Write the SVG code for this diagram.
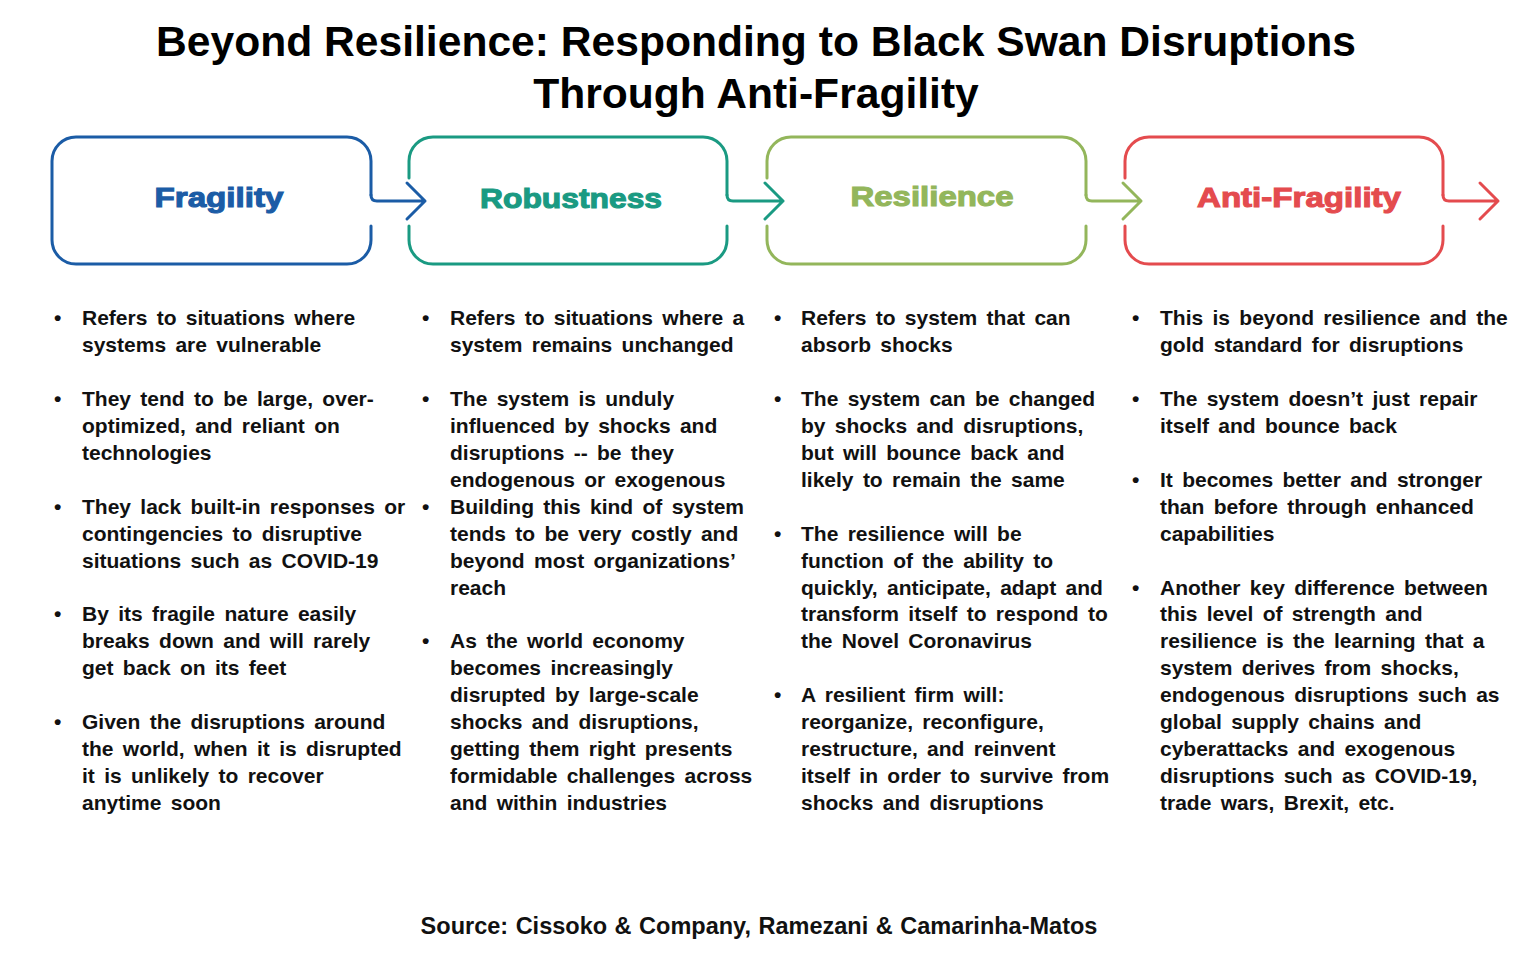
<svg xmlns="http://www.w3.org/2000/svg" width="1536" height="960" viewBox="0 0 1536 960">
<style>
.title{font-family:"Liberation Sans",Arial,sans-serif;font-weight:bold;font-size:42.6px;fill:#000;text-anchor:middle}
.hdr{font-family:"Liberation Sans",Arial,sans-serif;font-weight:bold;font-size:28px;text-anchor:middle;stroke-width:1.1}
.body{font-family:"Liberation Sans",Arial,sans-serif;font-weight:bold;font-size:21px;fill:#111;word-spacing:3.5px}
.src{font-family:"Liberation Sans",Arial,sans-serif;font-weight:bold;font-size:23.5px;fill:#111;text-anchor:middle;word-spacing:1px}
.box{fill:none;stroke-width:3;stroke-linecap:round;stroke-linejoin:round}
.con{fill:none;stroke-width:3;stroke-linecap:round;stroke-linejoin:round}
.blue{stroke:#1B5CA6}.teal{stroke:#1A9A82}.green{stroke:#93B65B}.red{stroke:#E44B4E}
</style>
<rect width="1536" height="960" fill="#fff"/>
<g id="title">
<text class="title" x="756" y="56">Beyond Resilience: Responding to Black Swan Disruptions</text>
<text class="title" x="756" y="108">Through Anti-Fragility</text>
</g>
<g id="fragility">
<path class="box blue" d="M371,226 V240 A24 24 0 0 1 347,264 H76 A24 24 0 0 1 52,240 V161 A24 24 0 0 1 76,137 H347 A24 24 0 0 1 371,161 V195"/>
<text class="hdr" x="219" y="207" fill="#1B5CA6" stroke="#1B5CA6" textLength="129" lengthAdjust="spacingAndGlyphs">Fragility</text>
<g class="body">
<text x="54" y="325">•</text>
<text><tspan x="82" y="325">Refers to situations where</tspan><tspan x="82" y="352">systems are vulnerable</tspan></text>
<text x="54" y="406">•</text>
<text><tspan x="82" y="406">They tend to be large, over-</tspan><tspan x="82" y="433">optimized, and reliant on</tspan><tspan x="82" y="460">technologies</tspan></text>
<text x="54" y="514">•</text>
<text><tspan x="82" y="514">They lack built-in responses or</tspan><tspan x="82" y="541">contingencies to disruptive</tspan><tspan x="82" y="568">situations such as COVID-19</tspan></text>
<text x="54" y="621">•</text>
<text><tspan x="82" y="621">By its fragile nature easily</tspan><tspan x="82" y="648">breaks down and will rarely</tspan><tspan x="82" y="675">get back on its feet</tspan></text>
<text x="54" y="729">•</text>
<text><tspan x="82" y="729">Given the disruptions around</tspan><tspan x="82" y="756">the world, when it is disrupted</tspan><tspan x="82" y="783">it is unlikely to recover</tspan><tspan x="82" y="810">anytime soon</tspan></text>
</g>
</g>
<g id="robustness">
<path class="box teal" d="M409,178 V161 A24 24 0 0 1 433,137 H703 A24 24 0 0 1 727,161 V195 M727,226 V240 A24 24 0 0 1 703,264 H433 A24 24 0 0 1 409,240 V226"/>
<text class="hdr" x="571" y="208" fill="#1A9A82" stroke="#1A9A82" textLength="182" lengthAdjust="spacingAndGlyphs">Robustness</text>
<g class="body">
<text x="422" y="325">•</text>
<text><tspan x="450" y="325">Refers to situations where a</tspan><tspan x="450" y="352">system remains unchanged</tspan></text>
<text x="422" y="406">•</text>
<text><tspan x="450" y="406">The system is unduly</tspan><tspan x="450" y="433">influenced by shocks and</tspan><tspan x="450" y="460">disruptions -- be they</tspan><tspan x="450" y="487">endogenous or exogenous</tspan></text>
<text x="422" y="514">•</text>
<text><tspan x="450" y="514">Building this kind of system</tspan><tspan x="450" y="541">tends to be very costly and</tspan><tspan x="450" y="568">beyond most organizations’</tspan><tspan x="450" y="595">reach</tspan></text>
<text x="422" y="648">•</text>
<text><tspan x="450" y="648">As the world economy</tspan><tspan x="450" y="675">becomes increasingly</tspan><tspan x="450" y="702">disrupted by large-scale</tspan><tspan x="450" y="729">shocks and disruptions,</tspan><tspan x="450" y="756">getting them right presents</tspan><tspan x="450" y="783">formidable challenges across</tspan><tspan x="450" y="810">and within industries</tspan></text>
</g>
</g>
<g id="resilience">
<path class="box green" d="M767,178 V161 A24 24 0 0 1 791,137 H1062 A24 24 0 0 1 1086,161 V195 M1086,226 V240 A24 24 0 0 1 1062,264 H791 A24 24 0 0 1 767,240 V226"/>
<text class="hdr" x="932" y="206" fill="#93B65B" stroke="#93B65B" textLength="163" lengthAdjust="spacingAndGlyphs">Resilience</text>
<g class="body">
<text x="774" y="325">•</text>
<text><tspan x="801" y="325">Refers to system that can</tspan><tspan x="801" y="352">absorb shocks</tspan></text>
<text x="774" y="406">•</text>
<text><tspan x="801" y="406">The system can be changed</tspan><tspan x="801" y="433">by shocks and disruptions,</tspan><tspan x="801" y="460">but will bounce back and</tspan><tspan x="801" y="487">likely to remain the same</tspan></text>
<text x="774" y="541">•</text>
<text><tspan x="801" y="541">The resilience will be</tspan><tspan x="801" y="568">function of the ability to</tspan><tspan x="801" y="595">quickly, anticipate, adapt and</tspan><tspan x="801" y="621">transform itself to respond to</tspan><tspan x="801" y="648">the Novel Coronavirus</tspan></text>
<text x="774" y="702">•</text>
<text><tspan x="801" y="702">A resilient firm will:</tspan><tspan x="801" y="729">reorganize, reconfigure,</tspan><tspan x="801" y="756">restructure, and reinvent</tspan><tspan x="801" y="783">itself in order to survive from</tspan><tspan x="801" y="810">shocks and disruptions</tspan></text>
</g>
</g>
<g id="anti-fragility">
<path class="box red" d="M1125,178 V161 A24 24 0 0 1 1149,137 H1419 A24 24 0 0 1 1443,161 V195 M1443,226 V240 A24 24 0 0 1 1419,264 H1149 A24 24 0 0 1 1125,240 V226"/>
<text class="hdr" x="1299" y="207" fill="#E44B4E" stroke="#E44B4E" textLength="204" lengthAdjust="spacingAndGlyphs">Anti-Fragility</text>
<g class="body">
<text x="1132" y="325">•</text>
<text><tspan x="1160" y="325">This is beyond resilience and the</tspan><tspan x="1160" y="352">gold standard for disruptions</tspan></text>
<text x="1132" y="406">•</text>
<text><tspan x="1160" y="406">The system doesn’t just repair</tspan><tspan x="1160" y="433">itself and bounce back</tspan></text>
<text x="1132" y="487">•</text>
<text><tspan x="1160" y="487">It becomes better and stronger</tspan><tspan x="1160" y="514">than before through enhanced</tspan><tspan x="1160" y="541">capabilities</tspan></text>
<text x="1132" y="595">•</text>
<text><tspan x="1160" y="595">Another key difference between</tspan><tspan x="1160" y="621">this level of strength and</tspan><tspan x="1160" y="648">resilience is the learning that a</tspan><tspan x="1160" y="675">system derives from shocks,</tspan><tspan x="1160" y="702">endogenous disruptions such as</tspan><tspan x="1160" y="729">global supply chains and</tspan><tspan x="1160" y="756">cyberattacks and exogenous</tspan><tspan x="1160" y="783">disruptions  such as COVID-19,</tspan><tspan x="1160" y="810">trade wars, Brexit, etc.</tspan></text>
</g>
</g>
<g id="connectors">
<path class="con blue" d="M371,195 Q371,201 377,201 H425 M407,183 L425,201 L407,219"/>
<path class="con teal" d="M727,195 Q727,201 733,201 H783 M765,183 L783,201 L765,219"/>
<path class="con green" d="M1086,195 Q1086,201 1092,201 H1141 M1123,183 L1141,201 L1123,219"/>
<path class="con red" d="M1443,195 Q1443,201 1449,201 H1498 M1480,183 L1498,201 L1480,219"/>
</g>
<g id="source">
<text class="src" x="759" y="934">Source: Cissoko &amp; Company, Ramezani &amp; Camarinha-Matos</text>
</g>
</svg>
